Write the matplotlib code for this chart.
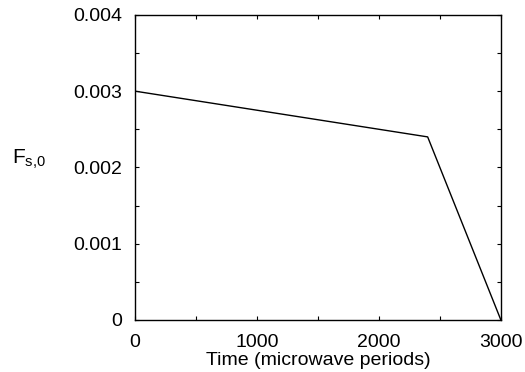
import matplotlib
matplotlib.use('Agg')
import matplotlib.pyplot as plt
from matplotlib.ticker import MultipleLocator

plt.rcParams['font.family'] = ['Liberation Sans', 'DejaVu Sans']
plt.rcParams['mathtext.fontset'] = 'custom'
plt.rcParams['mathtext.rm'] = 'Liberation Sans'

# piecewise-linear ramp of F_s,0
time = [0, 2400, 3000]
fs0 = [0.003, 0.0024, 0.0]

fig = plt.figure(figsize=(5.25, 3.72), dpi=100)
ax = fig.add_axes([0.257, 0.140, 0.697, 0.820])

ax.plot(time, fs0, color='black', linewidth=1.0)

ax.set_xlim(0, 3000)
ax.set_ylim(0, 0.004)
ax.xaxis.set_major_locator(MultipleLocator(1000))
ax.xaxis.set_minor_locator(MultipleLocator(500))
ax.yaxis.set_minor_locator(MultipleLocator(0.0005))
ax.set_yticks([0, 0.001, 0.002, 0.003, 0.004])
ax.set_yticklabels(['0', '0.001', '0.002', '0.003', '0.004'])

ax.tick_params(which='both', direction='in', top=True, right=True, length=3, width=0.8, labelsize=14)
ax.tick_params(axis='x', pad=10)
ax.tick_params(axis='y', pad=9)
for s in ax.spines.values():
    s.set_linewidth(1.0)

ax.set_xlabel('Time (microwave periods)', fontsize=14, labelpad=1)
fig.text(0.023, 0.572, r'$\mathregular{F_{s{,}0}}$', fontsize=15, ha='left', va='center')

fig.savefig('out.png', dpi=100)
